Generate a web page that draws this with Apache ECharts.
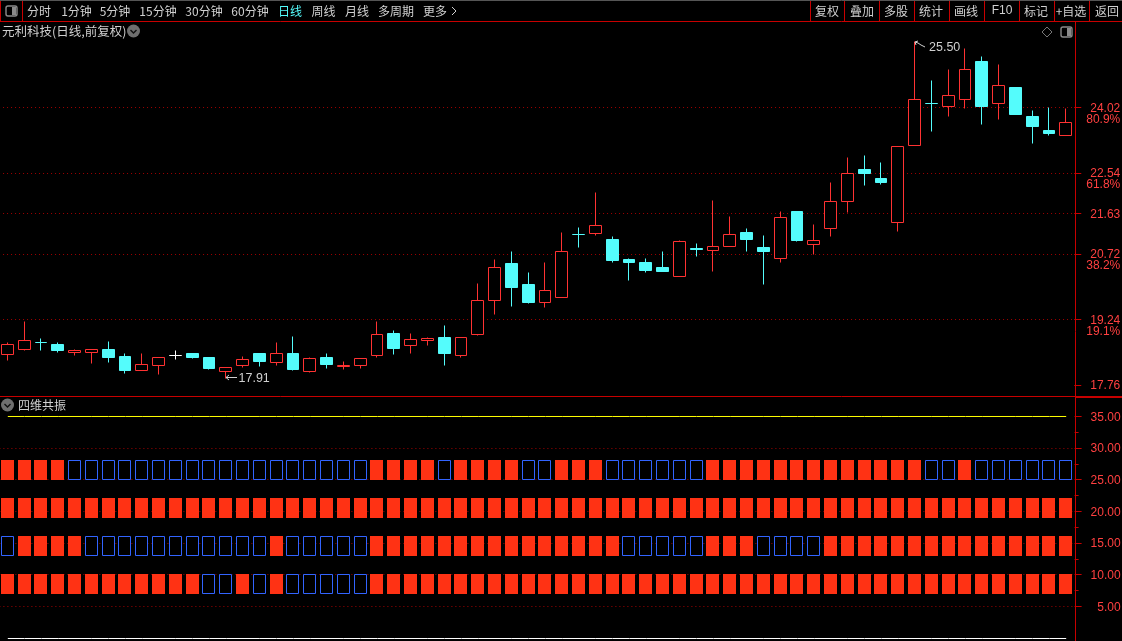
<!DOCTYPE html>
<html><head><meta charset="utf-8">
<style>html,body{margin:0;padding:0;background:#000;overflow:hidden}#c{width:1122px;height:641px}</style>
<script src="https://cdn.jsdelivr.net/npm/echarts@6/dist/echarts.min.js"></script>
</head><body><div id="c"></div>
<script>
const opens=[18.45,18.56,18.72,18.68,18.50,18.49,18.55,18.41,18.08,18.19,18.43,18.48,18.37,18.06,18.19,18.48,18.26,18.46,18.06,18.39,18.17,18.19,18.42,18.91,18.65,18.76,18.84,18.42,18.89,19.66,20.49,20.02,19.62,19.73,21.16,21.17,21.05,20.60,20.53,20.42,20.20,20.85,20.79,20.88,21.21,20.87,20.61,21.68,20.92,21.29,21.90,22.63,22.41,21.42,23.16,24.12,24.04,24.20,25.05,24.11,24.46,23.81,23.51,23.38];
const closes=[18.68,18.77,18.71,18.53,18.53,18.56,18.39,18.08,18.23,18.38,18.43,18.39,18.14,18.16,18.34,18.30,18.47,18.10,18.35,18.23,18.21,18.36,18.90,18.59,18.79,18.80,18.48,18.82,19.67,20.41,19.97,19.61,19.90,20.78,21.15,21.36,20.56,20.53,20.35,20.33,21.00,20.81,20.89,21.16,21.05,20.76,21.54,21.01,21.02,21.90,22.54,22.52,22.32,23.14,24.20,24.11,24.30,24.88,24.05,24.52,23.87,23.60,23.44,23.69];
const lows=[18.31,18.53,18.53,18.49,18.42,18.24,18.26,18.01,18.08,17.99,18.33,18.35,18.10,17.91,18.15,18.17,18.21,18.08,18.04,18.14,18.10,18.14,18.39,18.44,18.48,18.64,18.21,18.39,18.87,19.34,19.54,19.59,19.50,19.73,20.87,21.14,20.53,20.11,20.29,20.31,20.20,20.65,20.33,20.88,20.76,20.02,20.53,20.99,20.71,21.10,21.64,22.25,22.29,21.23,23.16,23.47,23.81,23.99,23.63,23.76,23.87,23.20,23.38,23.38];
const highs=[18.71,19.20,18.80,18.71,18.55,18.56,18.75,18.48,18.46,18.38,18.53,18.48,18.39,18.16,18.41,18.48,18.71,18.86,18.39,18.46,18.28,18.36,19.20,18.98,18.93,18.84,19.11,18.82,20.06,20.58,20.78,20.29,20.53,21.19,21.32,22.11,21.12,20.62,20.62,20.78,21.03,20.96,21.93,21.55,21.28,21.14,21.68,21.68,21.37,22.32,22.90,22.93,22.77,23.14,25.50,24.62,24.87,25.36,25.16,24.98,24.46,23.96,24.03,23.99];
const categories=opens.map((_,i)=>String(i+1));
const row1=[...'1111000000000000000000111101111001110000001111111111111001000000'];
const row2=[...'1111111111111111111111111111111111111111111111111111111111111111'];
const row3=[...'0111100000000000100000111111111111111000001110000111111111111111'];
const row4=[...'1111111111110010100000111111111111111111111111111111111111111111'];
const rowBands=[[25,28],[19,22],[13,16],[7,10]];
const priceTicks=[24.02,22.54,21.63,20.72,19.24,17.76];
const priceGridTicks=[24.02,22.54,21.63,20.72,19.24];
const pctTicks=[24.02,22.54,20.72,19.24];
const pctLabels=['80.9%','61.8%','38.2%','19.1%'];
const subTicks=[5,10,15,20,25,30,35];
const subGridTicks=[5,10,15,20,25,30];
const subMinorTicks=[7.5,12.5,17.5,22.5,27.5,32.5];
const topLine=35, bottomLine=0;
const leftTabs=[['分时',39],['1分钟',76.5],['5分钟',115],['15分钟',158],['30分钟',204],['60分钟',250],['日线',290],['周线',323.5],['月线',357],['多周期',396],['更多',435]];
const rightTabs=[['复权',827],['叠加',862],['多股',896],['统计',931],['画线',966],['F10',1002],['标记',1036],['+自选',1071],['返回',1107]];
const rightSeps=[810,844,879,914,949,984,1019,1054,1089];

const RED='#ff3232',LBL='#ff4040',AX='#c80000',DOT='#a00000',TXT='#d0d0d0',CYAN='#54fcfc';
const CJK='"Noto Sans CJK SC","Noto Sans",sans-serif',NUM='"Liberation Sans",Arial,sans-serif';
const line=(x1,y1,x2,y2,c,w)=>({type:'line',silent:true,z:50,shape:{x1,y1,x2,y2},style:{stroke:c,lineWidth:w||1}});
const text=(t,x,y,c,f,s,al)=>({type:'text',silent:true,z:60,x,y,style:{text:t,fill:c||TXT,font:(s||12)+'px '+(f||CJK),textAlign:al||'center',textVerticalAlign:'middle'}});
const g=[];
g.push(line(0,0.5,1122,0.5,'#555'));
g.push(line(0,21.5,1122,21.5,AX));
g.push(line(0.5,1,0.5,21,AX),line(22.5,1,22.5,21,AX));
rightSeps.forEach(x=>g.push(line(x+.5,1,x+.5,21,AX)));
g.push(line(0,396.5,1122,396.5,AX));
g.push(line(1076,397.5,1122,397.5,AX));
g.push(line(1075.5,22,1075.5,641,AX));
leftTabs.forEach(t=>g.push(text(t[0],t[1],11,t[0]==='日线'?CYAN:TXT)));
rightTabs.forEach(t=>g.push(text(t[0],t[1],11,TXT,t[0]==='F10'?NUM:CJK,12)));
g.push({type:'polyline',silent:true,z:60,shape:{points:[[452,7],[456,11],[452,15]]},style:{stroke:TXT,fill:'none',lineWidth:1}});
const panelIcon=(x,y)=>[{type:'rect',silent:true,z:60,shape:{x,y,width:11,height:10,r:2},style:{stroke:'#8a8a8a',fill:'#000',lineWidth:1.4}},{type:'rect',silent:true,z:61,shape:{x:x+6,y:y+1,width:4,height:8},style:{fill:'#8a8a8a'}}];
g.push(...panelIcon(6,6));
g.push(...panelIcon(1061,27));
g.push({type:'polygon',silent:true,z:60,shape:{points:[[1047,27],[1052,32],[1047,37],[1042,32]]},style:{stroke:'#777',fill:'none',lineWidth:1}});
g.push(text('元利科技(日线,前复权)',2,31,TXT,CJK,12.5,'left'));
g.push(text('四维共振',18,405,TXT,CJK,12,'left'));
const chev=(x,y)=>[{type:'circle',silent:true,z:60,shape:{cx:x,cy:y,r:6.5},style:{fill:'#6f6f6f'}},{type:'polyline',silent:true,z:61,shape:{points:[[x-3,y-1],[x,y+2],[x+3,y-1]]},style:{stroke:'#111',fill:'none',lineWidth:1.4}}];
g.push(...chev(133.5,31),...chev(7.5,405));
g.push({type:'polyline',silent:true,z:60,shape:{points:[[915,42],[918,43],[921,45],[925,47]]},style:{stroke:TXT,fill:'none',lineWidth:1}});
g.push({type:'polyline',silent:true,z:60,shape:{points:[[918,41],[915,42],[916,45]]},style:{stroke:TXT,fill:'none',lineWidth:1}});
g.push(text('25.50',929,47.5,TXT,NUM,12.5,'left'));
g.push(line(226,377.5,237,377.5,TXT));
g.push({type:'polyline',silent:true,z:60,shape:{points:[[229,375],[226,377.5],[229,380]]},style:{stroke:TXT,fill:'none',lineWidth:1}});
g.push(text('17.91',238.5,378.5,TXT,NUM,12.5,'left'));

// layout of the main panel
const P={top:22,h:374,min:17.511,max:25.949};
// nudge a price to the centre of its pixel row so the candle edges stay crisp
const crisp=v=>{const y=(P.max-v)/(P.max-P.min)*P.h;return P.max-(Math.floor(y)+.5)/P.h*(P.max-P.min);};
const candle=i=>{const o=opens[i],c=closes[i];let co=crisp(o),cc=crisp(c);
  if(o!==c&&co===cc)cc+=(c>o?1e-6:-1e-6);return [co,cc,crisp(lows[i]),crisp(highs[i])];};

const sqSeries=(row,band)=>({type:'custom',xAxisIndex:1,yAxisIndex:2,z:5,encode:{x:0,y:[1,2]},
  renderItem:(p,api)=>{
    const a=api.coord([api.value(0),api.value(2)]),b=api.coord([api.value(0),api.value(1)]);
    const L=Math.floor(a[0]-6.5),T=Math.floor(a[1]),B=Math.floor(b[1])+1;
    return api.value(3)?{type:'rect',shape:{x:L,y:T,width:13,height:B-T},style:{fill:'#ff3214'}}
      :{type:'rect',shape:{x:L+.5,y:T+.5,width:12,height:B-T-1},style:{fill:'#000',stroke:'#3264ff',lineWidth:1}};
  },
  data:row.map((s,i)=>[i,band[0],band[1],+s])});
const noLine={show:false},noTick={show:false},noLabel={show:false};
const chart=echarts.init(document.getElementById('c'),null,{renderer:'canvas'});
chart.setOption({
  animation:false,backgroundColor:'#000',tooltip:{show:false},
  grid:[{left:-0.94,width:1075.2,top:P.top,height:P.h,outerBoundsMode:'none'},{left:-0.6,width:1075.2,top:397,height:244,outerBoundsMode:'none'}],
  xAxis:[0,1].map(i=>({type:'category',gridIndex:i,data:categories,boundaryGap:true,axisLine:noLine,axisTick:noTick,axisLabel:noLabel,splitLine:noLine})),
  yAxis:[
   {gridIndex:0,position:'right',scale:true,min:P.min,max:P.max,
    axisLine:{show:false},axisTick:{show:true,length:7,customValues:priceTicks,lineStyle:{color:AX}},splitLine:noLine,
    axisLabel:{show:true,customValues:priceTicks,align:'right',margin:46,verticalAlign:'top',lineHeight:2,color:LBL,fontFamily:NUM,fontSize:12,showMinLabel:true,showMaxLabel:true,formatter:v=>v.toFixed(2)}},
   {gridIndex:0,position:'right',scale:true,min:P.min,max:P.max,
    axisLine:noLine,axisTick:{show:false,customValues:priceGridTicks},
    splitLine:{show:true,lineStyle:{color:DOT,type:[1,3],width:1}},
    axisLabel:{show:true,customValues:pctTicks,align:'right',margin:46,verticalAlign:'top',padding:[6,0,0,0],color:LBL,fontFamily:NUM,fontSize:12,formatter:v=>pctLabels[pctTicks.indexOf(v)]||''}},
   {gridIndex:1,position:'right',min:-0.48,max:38.05,
    axisLine:noLine,axisTick:{show:true,length:7,customValues:subTicks,lineStyle:{color:AX}},splitLine:noLine,
    axisLabel:{show:true,customValues:subTicks,align:'right',margin:46,verticalAlign:'top',lineHeight:2,color:LBL,fontFamily:NUM,fontSize:12,formatter:v=>v.toFixed(2)}},
   {gridIndex:1,position:'right',min:-0.48,max:38.05,
    axisLine:noLine,axisTick:{show:true,length:4,customValues:subMinorTicks,lineStyle:{color:AX}},splitLine:noLine,axisLabel:noLabel},
   {gridIndex:1,position:'right',min:-0.48,max:38.05,
    axisLine:noLine,axisTick:{show:false,customValues:subGridTicks},axisLabel:noLabel,
    splitLine:{show:true,lineStyle:{color:DOT,type:[1,3],width:1}}},
   {gridIndex:1,position:'right',min:-0.394,max:38.074,
    axisLine:noLine,axisTick:noTick,axisLabel:noLabel,splitLine:noLine}
  ],
  graphic:g,
  series:[
   {type:'candlestick',xAxisIndex:0,yAxisIndex:0,barWidth:12.36,z:5,
    itemStyle:{color:'#000',color0:CYAN,borderColor:RED,borderColor0:CYAN,borderColorDoji:'#ffffff',borderWidth:1},
    data:categories.map((_,i)=>candle(i))},
   sqSeries(row1,rowBands[0]),sqSeries(row2,rowBands[1]),sqSeries(row3,rowBands[2]),sqSeries(row4,rowBands[3]),
   {type:'line',xAxisIndex:1,yAxisIndex:5,showSymbol:false,z:4,lineStyle:{color:'#ffff00',width:1},data:categories.map(()=>topLine)},
   {type:'line',xAxisIndex:1,yAxisIndex:5,showSymbol:false,z:4,lineStyle:{color:'#ffffff',width:1},data:categories.map(()=>bottomLine)}
  ]
});
</script></body></html>
